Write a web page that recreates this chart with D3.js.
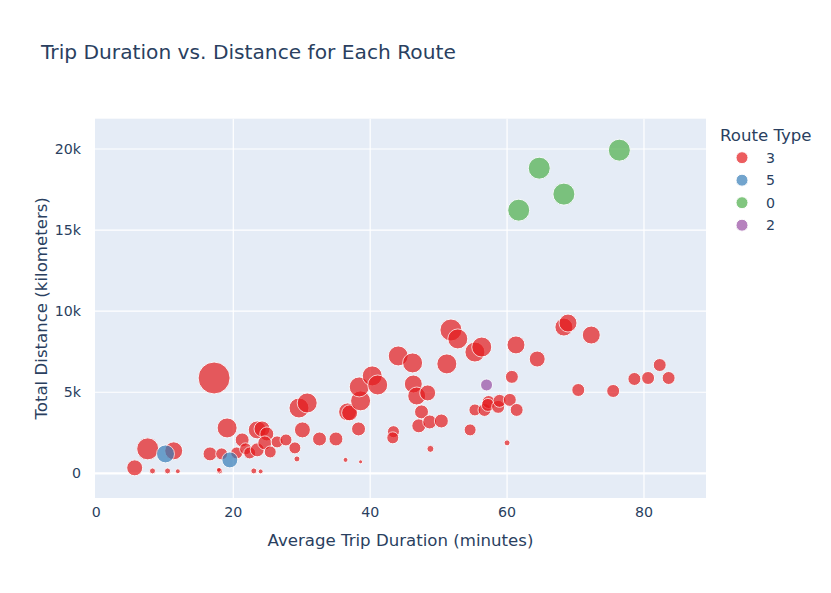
<!DOCTYPE html>
<html><head>
<meta charset="utf-8">
<script src="https://d3js.org/d3.v7.min.js"></script>
<style>
  body { margin: 0; background: #fff; }
  text { font-family: "DejaVu Sans", verdana, arial, sans-serif; fill: #2a3f5f; }
</style>
</head>
<body>
<svg width="831" height="593"></svg>
<script>
// route type of each route, in drawing order
var routeTypes = ["3", "5", "0", "2"];
var typeColors = ["#E41A1C", "#377EB8", "#4DAF4A", "#984EA3"];

// average trip duration (minutes)
var duration3 = [5.6, 8.2, 10.4, 11.9, 7.5, 11.3, 17.2, 19.1, 16.6, 18.3, 18.0, 17.9, 23.0, 24.0,
  20.5, 21.3, 21.8, 22.4, 23.5, 24.2, 24.9, 23.5, 24.6, 25.4, 26.4, 27.7, 29.0, 29.3, 30.1, 29.6,
  30.8, 32.6, 35.0, 36.4, 38.6, 36.7, 37.0, 38.3, 38.6, 38.4, 40.3, 41.1, 43.4, 43.3, 48.8, 44.1,
  46.2, 46.3, 46.8, 48.4, 47.5, 47.1, 48.7, 50.4, 51.2, 51.8, 52.8, 55.3, 56.3, 54.6, 55.3, 56.7,
  57.3, 57.2, 58.7, 58.9, 60.4, 61.4, 60.0, 60.7, 61.3, 64.4, 68.3, 68.9, 72.3, 70.4, 75.5, 78.6,
  80.6, 82.3, 83.6];
// total distance (km)
var distance3 = [340, 150, 150, 130, 1510, 1390, 5880, 2800, 1200, 1200, 150, 215, 150, 120,
  1260, 2060, 1510, 1260, 2680, 2740, 2430, 1450, 1880, 1320, 1940, 2060, 1570, 890, 2680, 4030,
  4340, 2120, 2120, 830, 710, 3790, 3730, 2740, 4470, 5330, 6010, 5450, 2570, 2190, 1510, 7240,
  6810, 5510, 4770, 4960, 3790, 2930, 3170, 3230, 6750, 8840, 8290, 7480, 7790, 2680, 3910, 3910,
  4400, 4220, 4100, 4470, 4530, 3910, 1880, 5950, 7920, 7050, 9020, 9270, 8530, 5140, 5080, 5820,
  5880, 6680, 5880];
// number of trips (marker size)
var trips3 = [250, 35, 35, 24, 473, 316, 1000, 391, 191, 141, 35, 24, 35, 24,
  141, 191, 141, 141, 316, 250, 191, 191, 191, 141, 141, 141, 141, 35, 250, 391,
  391, 191, 191, 24, 16, 316, 250, 191, 391, 391, 391, 391, 141, 141, 48, 391,
  391, 316, 316, 250, 191, 191, 191, 191, 391, 473, 391, 391, 391, 141, 141, 165,
  165, 165, 165, 165, 165, 165, 35, 165, 316, 250, 316, 316, 316, 165, 165, 165,
  165, 165, 165];

var duration5 = [10.1, 19.5];
var distance5 = [1200, 830];
var trips5 = [316, 250];

var duration0 = [64.7, 76.4, 68.3, 61.7];
var distance0 = [18820, 19930, 17220, 16230];
var trips0 = [473, 473, 473, 473];

var duration2 = [57.0];
var distance2 = [5450];
var trips2 = [141];

var xTicks = [0, 20, 40, 60, 80];
var yTicks = [0, 5000, 10000, 15000, 20000];
var yTickLabels = ["0", "5k", "10k", "15k", "20k"];

var series = [
  { type: "3", dur: duration3, dist: distance3, trips: trips3 },
  { type: "5", dur: duration5, dist: distance5, trips: trips5 },
  { type: "0", dur: duration0, dist: distance0, trips: trips0 },
  { type: "2", dur: duration2, dist: distance2, trips: trips2 }
];

const svg = d3.select("svg"),
      pLeft = 95, pRight = 706, pTop = 118.7, pBottom = 498;

var x = d3.scaleLinear().domain([-0.2, 89.06]).range([pLeft, pRight]);
var y = d3.scaleLinear().domain([-1520, 21870]).range([pBottom, pTop]);
var r = d3.scaleSqrt().domain([0, 1000]).range([0, 16]);
var color = d3.scaleOrdinal().domain(routeTypes).range(typeColors);

svg.append("rect")
  .attr("x", pLeft).attr("y", pTop)
  .attr("width", pRight - pLeft).attr("height", pBottom - pTop)
  .attr("fill", "#E5ECF6");

// grid
svg.append("g").selectAll("line").data(xTicks.filter(function(d) { return d > 0; }))
  .enter().append("line")
  .attr("x1", function(d) { return x(d); }).attr("x2", function(d) { return x(d); })
  .attr("y1", pTop).attr("y2", pBottom)
  .attr("stroke", "#fff").attr("stroke-width", 1.2);

svg.append("g").selectAll("line").data(yTicks)
  .enter().append("line")
  .attr("x1", pLeft).attr("x2", pRight)
  .attr("y1", function(d) { return y(d); }).attr("y2", function(d) { return y(d); })
  .attr("stroke", "#fff").attr("stroke-width", function(d) { return d == 0 ? 2.4 : 1.2; });

// tick labels
svg.append("g").selectAll("text").data(xTicks)
  .enter().append("text")
  .attr("x", function(d) { return x(d); }).attr("y", 517)
  .attr("text-anchor", "middle").style("font-size", "14.2px")
  .text(function(d) { return d; });

svg.append("g").selectAll("text").data(yTicks)
  .enter().append("text")
  .attr("x", 81).attr("y", function(d) { return y(d) + 5; })
  .attr("text-anchor", "end").style("font-size", "14.2px")
  .text(function(d, i) { return yTickLabels[i]; });

// points
var plot = svg.append("g");
series.forEach(function(s) {
  var pts = s.dur.map(function(d, i) { return { dur: d, dist: s.dist[i], trips: s.trips[i] }; });
  plot.append("g").selectAll("circle").data(pts)
    .enter().append("circle")
    .attr("cx", function(d) { return x(d.dur); })
    .attr("cy", function(d) { return y(d.dist); })
    .attr("r", function(d) { return r(d.trips); })
    .attr("fill", color(s.type))
    .attr("stroke", "#fff").attr("stroke-width", 1)
    .attr("opacity", 0.7);
});

// titles
svg.append("text")
  .attr("x", 41).attr("y", 59)
  .style("font-size", "20.2px")
  .text("Trip Duration vs. Distance for Each Route");

svg.append("text")
  .attr("x", (pLeft + pRight) / 2).attr("y", 546)
  .attr("text-anchor", "middle").style("font-size", "16.6px")
  .text("Average Trip Duration (minutes)");

svg.append("text")
  .attr("transform", "translate(47," + ((pTop + pBottom) / 2) + ") rotate(-90)")
  .attr("text-anchor", "middle").style("font-size", "16.6px")
  .text("Total Distance (kilometers)");

// legend
var legend = svg.append("g");
legend.append("text")
  .attr("x", 720).attr("y", 141)
  .style("font-size", "16.6px")
  .text("Route Type");

var items = legend.selectAll("g.item").data(routeTypes)
  .enter().append("g")
  .attr("class", "item")
  .attr("transform", function(d, i) { return "translate(742," + (157.7 + i * 22.5) + ")"; });
items.append("circle")
  .attr("r", 6)
  .attr("fill", function(d) { return color(d); })
  .attr("stroke", "#fff").attr("stroke-width", 1)
  .attr("opacity", 0.7);
items.append("text")
  .attr("x", 24).attr("y", 5)
  .style("font-size", "14.2px")
  .text(function(d) { return d; });
</script>
</body>
</html>
